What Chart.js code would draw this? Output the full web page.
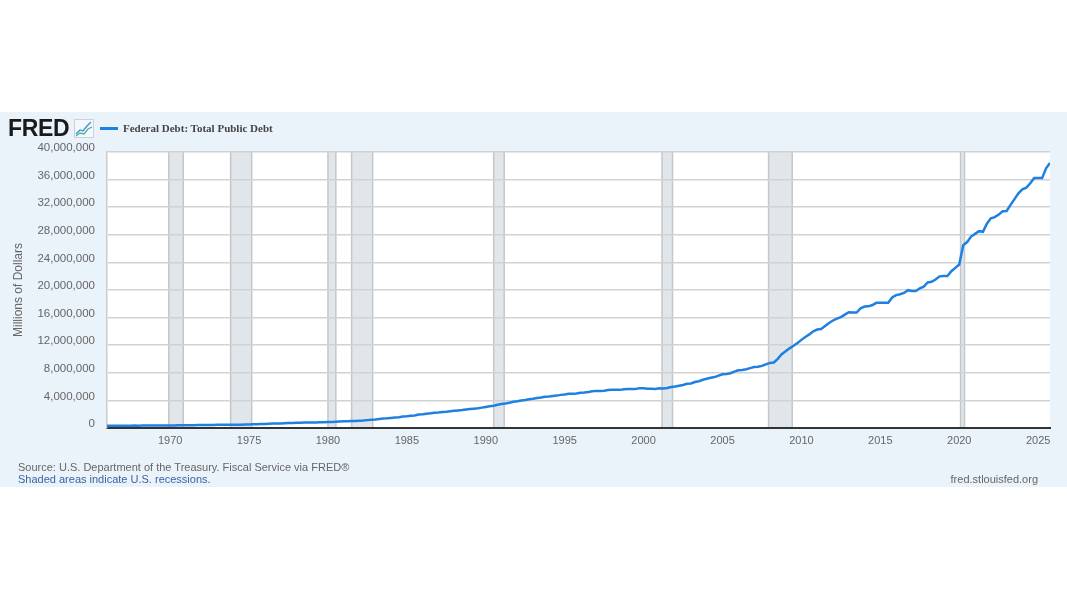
<!DOCTYPE html>
<html>
<head>
<meta charset="utf-8">
<script src="https://cdn.jsdelivr.net/npm/chart.js@4.4.1/dist/chart.umd.min.js"></script>
<style>
    body { margin: 0; width: 1067px; height: 600px; background: #fff; font-family: "Liberation Sans", Arial, sans-serif; position: relative; overflow: hidden; }
    #panel { position: absolute; left: 0; top: 112px; width: 1067px; height: 375px; background: #eaf2fa; }
    #debt-chart { position: absolute; left: 0; top: 0; }
    .logo { position: absolute; left: 8px; top: 3px; font-size: 23px; font-weight: bold; color: #1a1a1a; letter-spacing: -0.3px; }
    .logo-icon { position: absolute; left: 74px; top: 7px; }
    .legend { position: absolute; left: 100px; top: 10px; font-family: "Liberation Serif", "Times New Roman", serif; font-weight: bold; font-size: 11px; color: #444; }
    .legend span.swatch { display: inline-block; width: 18px; height: 3px; background: #1e80e0; vertical-align: middle; margin-right: 5px; position: relative; top: -1px; }
    .source { position: absolute; left: 18px; top: 349px; font-size: 11px; color: #666; }
    .shaded { position: absolute; left: 18px; top: 361px; font-size: 11px; color: #3d62a8; }
    .site { position: absolute; right: 29px; top: 361px; font-size: 11px; color: #666; }
</style>
</head>
<body>
<div id="panel">
    <canvas id="debt-chart" width="1067" height="375"></canvas>
    <div class="logo">FRED</div>
    <svg class="logo-icon" width="20" height="19" viewBox="0 0 20 19">
        <rect x="0.5" y="0.5" width="19" height="18" fill="#f4f8fc" stroke="#c9d3dd"/>
        <polyline points="2,15 6,11 9,12 13,7 17,3" fill="none" stroke="#3a8fd8" stroke-width="1.3"/>
        <polyline points="2,17 6,14 10,15 14,10 18,8" fill="none" stroke="#4cb39a" stroke-width="1.3"/>
    </svg>
    <div class="legend"><span class="swatch"></span>Federal Debt: Total Public Debt</div>
    <div class="source">Source: U.S. Department of the Treasury. Fiscal Service via FRED®</div>
    <div class="shaded">Shaded areas indicate U.S. recessions.</div>
    <div class="site">fred.stlouisfed.org</div>
</div>
<script>
// /---------------Data: total public debt, millions of dollars, quarterly from 1966 Q1----------/
const firstYear = 1966;
const debt = [
    321000, 316100, 324700, 329300,
    330900, 322900, 332000, 344700,
    344000, 347600, 355000, 358000,
    360000, 353700, 362000, 368000,
    372000, 370900, 381000, 389000,
    392000, 398100, 412000, 424000,
    428000, 427300, 437000, 449000,
    458000, 458100, 466000, 469000,
    475000, 475100, 483000, 492000,
    510000, 533200, 553000, 576000,
    597000, 620400, 635000, 653000,
    668000, 685000, 709000, 729000,
    751000, 771000, 780000, 789000,
    807000, 812000, 827000, 845000,
    873000, 878000, 908000, 930000,
    964000, 971000, 998000, 1028000,
    1061000, 1079000, 1142000, 1197000,
    1245000, 1319000, 1377000, 1410000,
    1463000, 1518000, 1573000, 1663000,
    1710000, 1774000, 1823000, 1945000,
    1986000, 2059000, 2125000, 2214000,
    2250000, 2313000, 2350000, 2431000,
    2488000, 2547000, 2602000, 2684000,
    2740000, 2799000, 2857000, 2953000,
    3052000, 3143000, 3233000, 3365000,
    3465000, 3538000, 3665000, 3801000,
    3881000, 3984000, 4065000, 4177000,
    4230000, 4352000, 4411000, 4535000,
    4575000, 4646000, 4693000, 4800000,
    4864000, 4951000, 4974000, 4989000,
    5117000, 5161000, 5225000, 5323000,
    5380000, 5376000, 5413000, 5502000,
    5542000, 5547000, 5526000, 5614000,
    5651000, 5638000, 5656000, 5776000,
    5773000, 5686000, 5674000, 5662000,
    5774000, 5727000, 5807000, 5943000,
    6006000, 6126000, 6228000, 6405000,
    6460000, 6670000, 6783000, 6998000,
    7131000, 7274000, 7379000, 7596000,
    7777000, 7836000, 7933000, 8170000,
    8371000, 8420000, 8507000, 8680000,
    8849000, 8867000, 9008000, 9229000,
    9437000, 9492000, 10025000, 10700000,
    11127000, 11545000, 11910000, 12311000,
    12773000, 13202000, 13562000, 14025000,
    14270000, 14343000, 14790000, 15223000,
    15582000, 15856000, 16066000, 16433000,
    16771000, 16738000, 16738000, 17352000,
    17601000, 17632000, 17824000, 18141000,
    18152000, 18152000, 18151000, 18922000,
    19264000, 19381000, 19573000, 19977000,
    19847000, 19845000, 20245000, 20493000,
    21090000, 21195000, 21516000, 21974000,
    22028000, 22023000, 22719000, 23201000,
    23687000, 26477000, 26946000, 27748000,
    28133000, 28529000, 28428000, 29617000,
    30401000, 30568000, 30929000, 31419000,
    31458000, 32332000, 33167000, 34001000,
    34587000, 34832000, 35465000, 36218000,
    36215000, 36214000, 37638000, 38400000
];

// /---------------Recessions (decimal years) and tick labels----------/
const recessionStarts = [1969.917, 1973.833, 1980.0, 1981.5, 1990.5, 2001.167, 2007.917, 2020.083];
const recessionEnds = [1970.833, 1975.167, 1980.5, 1982.833, 1991.167, 2001.833, 2009.417, 2020.333];
const xTickYears = [1970, 1975, 1980, 1985, 1990, 1995, 2000, 2005, 2010, 2015, 2020, 2025];
const yTickMax = 40000000;
const yTickStep = 4000000;

const debtPoints = debt.map((v, i) => ({ x: firstYear + i / 4, y: v }));

// /---------------Plot background and recession shading----------/
const recessionShading = {
    id: 'recessionShading',
    beforeDraw(chart) {
        const { ctx, chartArea, scales } = chart;
        ctx.save();
        ctx.fillStyle = '#ffffff';
        ctx.fillRect(chartArea.left, chartArea.top, chartArea.right - chartArea.left, chartArea.bottom - chartArea.top);
        for (let i = 0; i < recessionStarts.length; i++) {
            const x1 = scales.x.getPixelForValue(recessionStarts[i]);
            const x2 = scales.x.getPixelForValue(recessionEnds[i]);
            ctx.fillStyle = '#e1e6eb';
            ctx.fillRect(x1, chartArea.top, x2 - x1, chartArea.bottom - chartArea.top);
            ctx.strokeStyle = '#c4c7ca';
            ctx.lineWidth = 1.5;
            ctx.beginPath();
            ctx.moveTo(x1, chartArea.top);
            ctx.lineTo(x1, chartArea.bottom);
            ctx.moveTo(x2, chartArea.top);
            ctx.lineTo(x2, chartArea.bottom);
            ctx.stroke();
        }
        ctx.restore();
    }
};

Chart.defaults.font.family = '"Liberation Sans", Arial, sans-serif';

new Chart(document.querySelector('#debt-chart').getContext('2d'), {
    type: 'line',
    data: {
        datasets: [{
            label: 'Federal Debt: Total Public Debt',
            data: debtPoints,
            borderColor: '#1e80e0',
            borderWidth: 2.5,
            pointRadius: 0,
            tension: 0,
            fill: false
        }]
    },
    options: {
        responsive: false,
        animation: false,
        layout: {
            padding: { left: 0, top: 40, right: 17, bottom: 0 }
        },
        scales: {
            x: {
                type: 'linear',
                min: firstYear,
                max: firstYear + (debt.length - 1) / 4,
                afterBuildTicks: (scale) => {
                    scale.ticks = xTickYears.map(v => ({ value: v }));
                },
                afterFit: (scale) => { scale.height = 59; },
                grid: { display: false },
                border: { display: true, color: '#333333', width: 2 },
                ticks: {
                    autoSkip: false,
                    maxRotation: 0,
                    padding: -2,
                    color: '#666666',
                    font: { size: 11 },
                    callback: (v) => String(v)
                }
            },
            y: {
                min: 0,
                max: yTickMax,
                afterFit: (scale) => { scale.width = 107; },
                grid: { color: '#d2d2d2', lineWidth: 1.5, drawTicks: false },
                border: { display: true, color: '#cccccc', width: 1.5 },
                title: {
                    display: true,
                    text: 'Millions of Dollars',
                    color: '#666666',
                    font: { size: 12 },
                    padding: { top: 11, bottom: 0 }
                },
                ticks: {
                    stepSize: yTickStep,
                    padding: 12,
                    labelOffset: -4,
                    color: '#666666',
                    font: { size: 11.5 },
                    callback: (v) => v.toLocaleString('en-US')
                }
            }
        },
        plugins: {
            legend: { display: false },
            tooltip: { enabled: false }
        }
    },
    plugins: [recessionShading]
});
</script>
</body>
</html>
